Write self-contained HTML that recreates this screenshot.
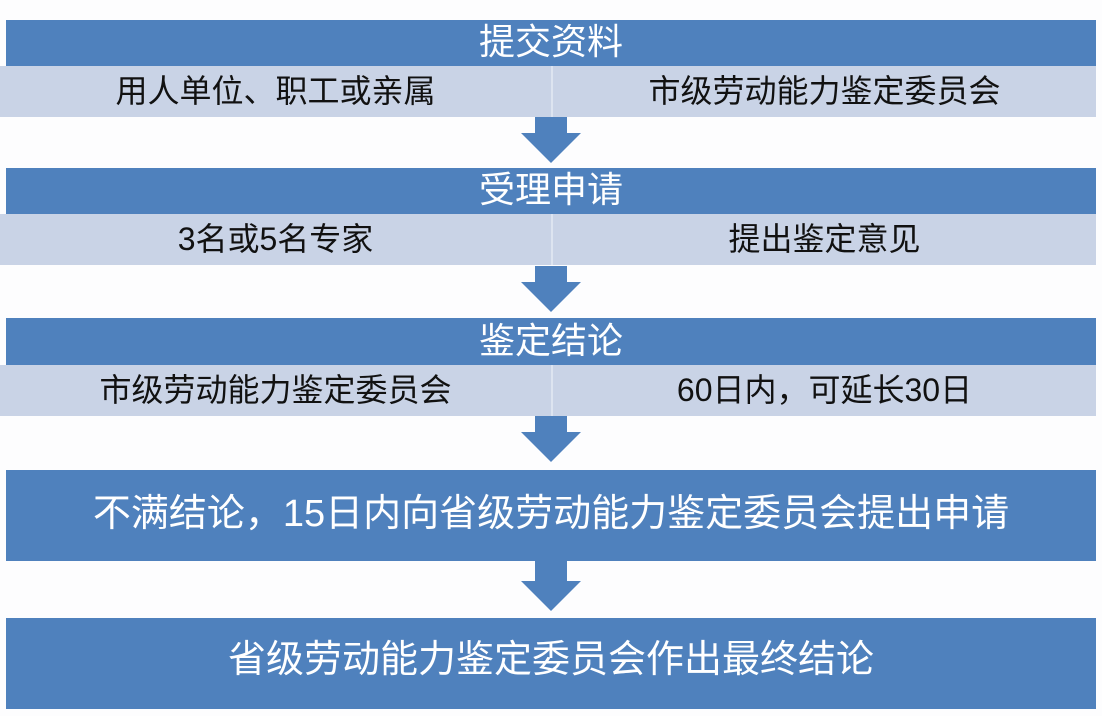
<!DOCTYPE html>
<html><head><meta charset="utf-8"><style>
body{margin:0;width:1102px;height:716px;background:#fdfdfe;position:relative;overflow:hidden;font-family:"Liberation Sans","Noto Sans CJK SC",sans-serif}
.b{position:absolute;left:6px;width:1090px;background:#4f81bd;color:#fff;text-align:center;white-space:nowrap}
.l{position:absolute;left:0;width:1096px;background:#c9d3e6;height:51px}
.l div{position:absolute;top:0;height:51px;line-height:51px;font-size:32px;color:#111;text-align:center;white-space:nowrap}
.l .a{left:0;width:551px;border-right:2px solid #dde4f0}
.l .c{left:553px;width:543px}
.ar{position:absolute;left:521px;width:60px;height:46px}
</style></head><body>
<div class="b" style="top:20px;height:46px;line-height:44px;font-size:36px">提交资料</div>
<div class="l" style="top:66px"><div class="a">用人单位、职工或亲属</div><div class="c">市级劳动能力鉴定委员会</div></div>
<svg class="ar" style="top:117px" viewBox="0 0 60 46"><polygon points="14,0 46,0 46,16 60,16 30,46 0,16 14,16" fill="#4f81bd"/></svg>
<div class="b" style="top:168px;height:46px;line-height:44px;font-size:36px">受理申请</div>
<div class="l" style="top:214px"><div class="a">3名或5名专家</div><div class="c">提出鉴定意见</div></div>
<svg class="ar" style="top:266px" viewBox="0 0 60 46"><polygon points="14,0 46,0 46,16 60,16 30,46 0,16 14,16" fill="#4f81bd"/></svg>
<div class="b" style="top:318px;height:47px;line-height:45px;font-size:36px">鉴定结论</div>
<div class="l" style="top:365px"><div class="a">市级劳动能力鉴定委员会</div><div class="c">60日内，可延长30日</div></div>
<svg class="ar" style="top:416px" viewBox="0 0 60 46"><polygon points="14,0 46,0 46,16 60,16 30,46 0,16 14,16" fill="#4f81bd"/></svg>
<div class="b" style="top:470px;height:91px;line-height:89px;font-size:38px">不满结论，15日内向省级劳动能力鉴定委员会提出申请</div>
<svg class="ar" style="top:561px;height:50px" viewBox="0 0 60 50"><polygon points="14,0 46,0 46,20 60,20 30,50 0,20 14,20" fill="#4f81bd"/></svg>
<div class="b" style="top:618px;height:91px;line-height:84px;font-size:38px">省级劳动能力鉴定委员会作出最终结论</div>
</body></html>
